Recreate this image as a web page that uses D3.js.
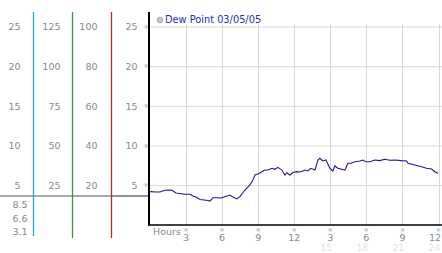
<!DOCTYPE html>
<html><head><meta charset="utf-8">
<script src="https://cdn.jsdelivr.net/npm/d3@7/dist/d3.min.js"></script>
<style>
html,body{margin:0;padding:0;background:#fff;}
svg{display:block;}
text{font-family:Verdana,"DejaVu Sans",sans-serif;}
</style></head>
<body>
<svg id="c" width="442" height="253"></svg>
<script>
// ---- data ----
const hours = [0,0.5,0.83,1.16,1.5,1.83,2.16,2.49,2.83,3.33,3.57,3.82,4.16,4.49,4.82,4.99,5.24,5.65,5.9,6.15,6.4,6.65,6.9,7.23,7.48,7.9,8.31,8.56,8.73,8.98,9.31,9.56,9.81,10.14,10.39,10.64,10.97,11.22,11.39,11.64,11.89,12.22,12.47,12.72,12.88,13.13,13.38,13.72,13.97,14.13,14.38,14.63,14.8,14.96,15.21,15.38,15.63,15.88,16.21,16.29,16.46,16.71,17.04,17.46,17.71,17.96,18.29,18.7,19.1,19.53,19.95,20.37,20.92,21.34,21.47,22.03,22.59,23.0,23.42,23.69,23.96];
const dewPoint = [4.24,4.2,4.2,4.39,4.45,4.41,4.07,4.01,3.91,3.91,3.69,3.57,3.25,3.19,3.13,3.06,3.48,3.48,3.44,3.57,3.69,3.82,3.57,3.32,3.61,4.45,5.08,5.71,6.34,6.47,6.76,6.97,6.97,7.19,7.06,7.31,6.97,6.34,6.63,6.34,6.66,6.76,6.72,6.85,6.97,6.85,7.19,6.97,8.23,8.45,8.11,8.23,7.73,7.19,6.85,7.48,7.19,7.1,6.97,7.19,7.82,7.82,8.02,8.11,8.23,8.02,8.02,8.23,8.15,8.32,8.2,8.23,8.15,8.11,7.82,7.6,7.39,7.19,7.1,6.76,6.56];
const yTicks = [5,10,15,20,25];
const col1Ticks = [5,10,15,20,25];
const col2Ticks = [25,50,75,100,125];
const col3Ticks = [20,40,60,80,100];
const lowLabels = ["8.5","6.6","3.1"];
const xTicks = [3,6,9,12,15,18,21,24];
const xLabels = ["3","6","9","12","3","6","9","12"];
const xTicks2 = [15,18,21,24];
const xLabels2 = ["15","18","21","24"];
const legendLabel = "Dew Point 03/05/05";

// ---- layout ----
const svg = d3.select("#c");
const W = 442;
const x = d3.scaleLinear([0,24],[150,438.5]);
const y = d3.scaleLinear([0,25],[225.3,27]);
const y2 = d3.scaleLinear([0,125],[225.3,27]);
const y3 = d3.scaleLinear([0,100],[225.3,27]);
const yLow = d3.scalePoint(lowLabels,[205,232]);
const lab = "#8a8a8a";

// grid
svg.append("g").selectAll("line").data(yTicks).join("line")
  .attr("x1",149).attr("x2",W).attr("y1",d=>y(d)).attr("y2",d=>y(d))
  .attr("stroke","#d8d8d8").attr("stroke-width",1);
svg.append("g").selectAll("line").data(xTicks).join("line")
  .attr("x1",d=>Math.round(x(d))+0.5).attr("x2",d=>Math.round(x(d))+0.5).attr("y1",24).attr("y2",225)
  .attr("stroke","#d8d8d8").attr("stroke-width",1);

// left panel gray line
svg.append("line").attr("x1",0).attr("x2",111).attr("y1",196).attr("y2",196).attr("stroke","#aaa").attr("stroke-width",2);
svg.append("line").attr("x1",111).attr("x2",149).attr("y1",196).attr("y2",196).attr("stroke","#909090").attr("stroke-width",2);

// colored vertical lines
svg.append("line").attr("x1",33.5).attr("x2",33.5).attr("y1",12).attr("y2",236).attr("stroke","#22a6dc").attr("stroke-width",1.3);
svg.append("line").attr("x1",72.5).attr("x2",72.5).attr("y1",12).attr("y2",238).attr("stroke","#2ea02e").attr("stroke-width",1.3);
svg.append("line").attr("x1",111.5).attr("x2",111.5).attr("y1",12).attr("y2",238).attr("stroke","#b52b2b").attr("stroke-width",1.3);

// left columns labels
function col(ticks, scale, xr){
  svg.append("g").selectAll("text").data(ticks).join("text")
    .attr("x",xr).attr("y",d=>scale(d)).attr("dy","0.35em").attr("text-anchor","end")
    .attr("font-size",9.5).attr("fill",lab).text(d=>d);
}
col(col1Ticks,y,20.5);
col(col2Ticks,y2,60.5);
col(col3Ticks,y3,97.5);
col(yTicks,y,137.5);
svg.append("g").selectAll("text").data(lowLabels).join("text")
  .attr("x",27.5).attr("y",d=>yLow(d)).attr("dy","0.35em").attr("text-anchor","end")
  .attr("font-size",9.5).attr("fill",lab).text(d=>d);

// y tick marks
svg.append("g").selectAll("text").data(yTicks).join("text")
  .attr("x",146).attr("y",d=>y(d)).attr("dy","0.3em").attr("text-anchor","middle")
  .attr("font-size",6).attr("fill","#aaa").text("※");

// axes
svg.append("line").attr("x1",149).attr("x2",149).attr("y1",12).attr("y2",225.5).attr("stroke","#000").attr("stroke-width",2);
svg.append("line").attr("x1",148).attr("x2",W).attr("y1",225).attr("y2",225).attr("stroke","#000").attr("stroke-width",1.5);

// x ticks
function clampX(sel){
  sel.each(function(d){
    const w = this.getComputedTextLength();
    const cx = +this.getAttribute("x");
    if (cx + w/2 > W - 1) this.setAttribute("x", W - 1 - w/2);
  });
}
svg.append("g").selectAll("text").data(xTicks).join("text")
  .attr("x",d=>x(d)).attr("y",230.5).attr("dy","0.3em").attr("text-anchor","middle")
  .attr("font-size",6).attr("fill","#aaa").text("※");
svg.append("g").selectAll("text").data(xTicks).join("text")
  .attr("x",d=>x(d)).attr("y",238).attr("dy","0.35em").attr("text-anchor","middle")
  .attr("font-size",9.5).attr("fill",lab).text((d,i)=>xLabels[i]).call(clampX);
svg.append("g").selectAll("text").data(xTicks2).join("text")
  .attr("x",d=>x(d)-4).attr("y",248).attr("dy","0.35em").attr("text-anchor","middle")
  .attr("font-size",9).attr("fill","#e2e2e2").text((d,i)=>xLabels2[i]).call(clampX);
svg.append("text").attr("x",153).attr("y",232).attr("dy","0.35em").attr("font-size",9.5).attr("fill",lab).text("Hours");

// line
const pts = hours.map((h,i)=>[h,dewPoint[i]]);
svg.append("path").datum(pts)
  .attr("d",d3.line().x(d=>x(d[0])).y(d=>y(d[1])))
  .attr("fill","none").attr("stroke","#1a1a99").attr("stroke-width",1.1);

// legend
svg.append("circle").attr("cx",160).attr("cy",20).attr("r",2.8).attr("fill","#c8c8c8").attr("stroke","#999").attr("stroke-width",0.8);
svg.append("text").attr("x",165).attr("y",20).attr("dy","0.35em").attr("font-size",9.8).attr("fill","#2b2bb8").text(legendLabel);
</script>
</body></html>
